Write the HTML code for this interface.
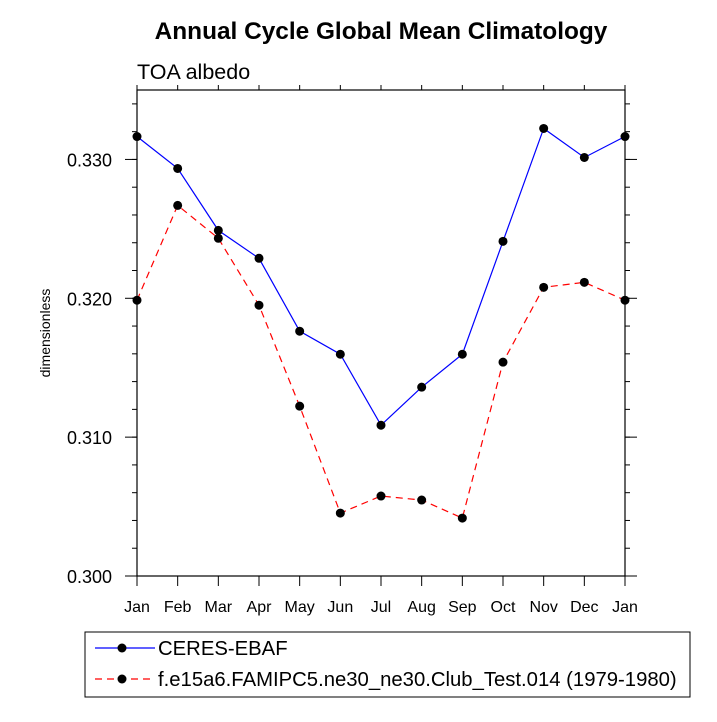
<!DOCTYPE html>
<html><head><meta charset="utf-8"><style>
body{margin:0;background:#fff;}
svg text{font-family:"Liberation Sans",sans-serif;}
</style></head><body>
<svg id="chart" width="717" height="717" viewBox="0 0 717 717" xmlns="http://www.w3.org/2000/svg">
<text x="381" y="39" font-size="24.4" font-weight="bold" text-anchor="middle">Annual Cycle Global Mean Climatology</text>
<text x="137" y="79" font-size="21.5">TOA albedo</text>
<text transform="translate(50,333) rotate(-90)" font-size="14" text-anchor="middle">dimensionless</text>
<g id="axes"></g>
<g id="series"></g>
<rect x="85" y="632" width="605" height="65" fill="none" stroke="#000" stroke-width="1"/>
<g>
<line x1="95" y1="648" x2="155" y2="648" stroke="#0000ff" stroke-width="1.2"/>
<circle cx="122" cy="648" r="4.5" fill="#000"/>
<text x="158" y="655" font-size="20.3">CERES-EBAF</text>
</g>
<g>
<line x1="95" y1="679" x2="155" y2="679" stroke="#ff0000" stroke-width="1.2" stroke-dasharray="7,5"/>
<circle cx="122" cy="679" r="4.5" fill="#000"/>
<text x="158" y="686" font-size="20.3">f.e15a6.FAMIPC5.ne30_ne30.Club_Test.014 (1979-1980)</text>
</g>
</svg>
<script>
const months=["Jan","Feb","Mar","Apr","May","Jun","Jul","Aug","Sep","Oct","Nov","Dec","Jan"];
const ceres=[0.33165,0.32935,0.32489,0.32288,0.31763,0.31597,0.31086,0.31360,0.31597,0.32410,0.33223,0.33014,0.33165];
const model=[0.31986,0.32669,0.32432,0.31950,0.31223,0.30453,0.30576,0.30547,0.30417,0.31540,0.32079,0.32115,0.31986];
const yTicks=[0.300,0.310,0.320,0.330];
const yTickLabels=["0.300","0.310","0.320","0.330"];
const NS="http://www.w3.org/2000/svg";
const L=137,R=625,T=90,B=576,yMin=0.300,yMax=0.335;
const xs=i=>L+(R-L)*i/(months.length-1);
const ys=v=>B-(v-yMin)/(yMax-yMin)*(B-T);
function mk(tag,attrs,parent){const e=document.createElementNS(NS,tag);for(const k in attrs)e.setAttribute(k,attrs[k]);parent.appendChild(e);return e;}
const ax=document.getElementById('axes');
const frame=mk('rect',{x:L,y:T,width:R-L,height:B-T,fill:'none',stroke:'#000','stroke-width':1.2},ax);


months.forEach((m,i)=>{
  const x=xs(i);
  mk('line',{x1:x,y1:B,x2:x,y2:B+10,stroke:'#000'},ax);
  mk('line',{x1:x,y1:T,x2:x,y2:T-5,stroke:'#000'},ax);
  const t=mk('text',{x:x,y:612,'font-size':16,'text-anchor':'middle'},ax);
  t.textContent=m;
  
  
});
for(let v=yMin;v<=yMax+1e-9;v+=0.002){
  const y=ys(v);
  mk('line',{x1:L,y1:y,x2:L-5,y2:y,stroke:'#000'},ax);
  mk('line',{x1:R,y1:y,x2:R+5,y2:y,stroke:'#000'},ax);
}
yTicks.forEach((v,i)=>{
  const y=ys(v);
  mk('line',{x1:L,y1:y,x2:L-12,y2:y,stroke:'#000'},ax);
  mk('line',{x1:R,y1:y,x2:R+12,y2:y,stroke:'#000'},ax);
  const t=mk('text',{x:112,y:y+7,'font-size':18,'text-anchor':'end'},ax);
  t.textContent=yTickLabels[i];
  
  
});
const sg=document.getElementById('series');
function drawSeries(vals,color,dash,name){
  const g=mk('g',{},sg);
  
  
  const pts=vals.map((v,i)=>xs(i)+','+ys(v)).join(' ');
  const a={points:pts,fill:'none',stroke:color,'stroke-width':1.2};
  if(dash)a['stroke-dasharray']=dash;
  mk('polyline',a,g);
  vals.forEach((v,i)=>{
    const c=mk('circle',{cx:xs(i),cy:ys(v),r:4.5,fill:'#000'},g);
    
    
  });
}
drawSeries(ceres,'#0000ff',null,'series-ceres-ebaf');
drawSeries(model,'#ff0000','7,5','series-model');
</script>
</body></html>
